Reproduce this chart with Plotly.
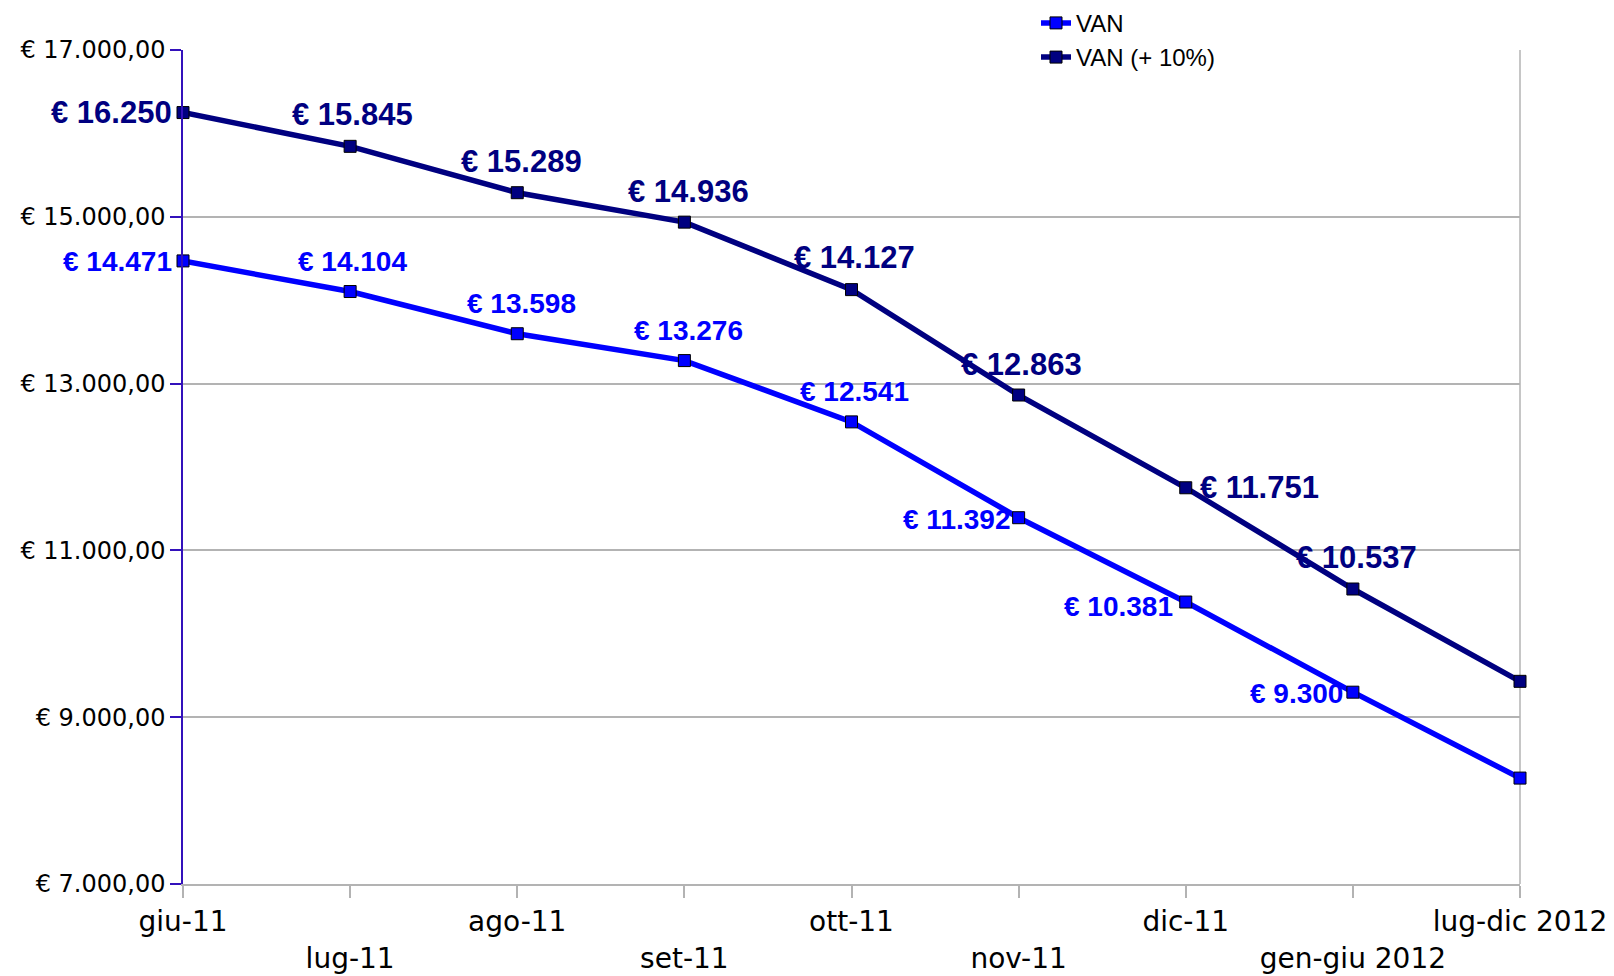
import plotly.graph_objects as go

categories = ["giu-11", "lug-11", "ago-11", "set-11", "ott-11", "nov-11", "dic-11", "gen-giu 2012", "lug-dic 2012"]
van = [14471, 14104, 13598, 13276, 12541, 11392, 10381, 9300, 8270]
van_plus10 = [16250, 15845, 15289, 14936, 14127, 12863, 11751, 10537, 9430]
y_ticks = [7000, 9000, 11000, 13000, 15000, 17000]

# label placement styles (anchor, xshift, yshift) per point; None = no label
van_label_style = [("right", -9, -1), ("center", 2, 30), ("center", 4, 30), ("center", 4, 30), ("center", 3, 30),
                   ("right", -7, -2), ("right", -11, -4), ("right", -8, -1), None]
dark_label_style = [("right", -9, 0), ("center", 2, 32), ("center", 4, 31), ("center", 4, 31), ("center", 3, 32),
                    ("center", 3, 31), ("left", 12, 0), ("center", 4, 32), None]

BLUE = "#0000ff"
NAVY = "#000080"


def fmt_int(v):
    return "€ " + f"{v:,.0f}".replace(",", ".")


def fmt_dec(v):
    s = f"{v:,.2f}"
    s = s.replace(",", "X").replace(".", ",").replace("X", ".")
    return "€ " + s


fig = go.Figure()
fig.add_trace(go.Scatter(
    x=categories, y=van, name="VAN", mode="lines+markers", cliponaxis=False,
    line=dict(color=BLUE, width=5.5),
    marker=dict(symbol="square", size=12, color=BLUE, line=dict(color="#000000", width=1)),
))
fig.add_trace(go.Scatter(
    x=categories, y=van_plus10, name="VAN (+ 10%)", mode="lines+markers", cliponaxis=False,
    line=dict(color=NAVY, width=5.5),
    marker=dict(symbol="square", size=12, color=NAVY, line=dict(color="#000000", width=1)),
))

annotations = []
for series, styles, color, size in [(van, van_label_style, BLUE, 28), (van_plus10, dark_label_style, NAVY, 31)]:
    for cat, val, st in zip(categories, series, styles):
        if st is None:
            continue
        anchor, xs, ys = st
        annotations.append(dict(
            x=cat, y=val, xref="x", yref="y", text="<b>" + fmt_int(val) + "</b>", showarrow=False,
            xanchor=anchor, yanchor="middle", xshift=xs, yshift=ys,
            font=dict(family="Liberation Sans, Arial, sans-serif", size=size, color=color),
        ))

ticktext = [c if i % 2 == 0 else "<br>" + c for i, c in enumerate(categories)]

fig.update_layout(
    width=1598, height=967,
    margin=dict(l=175, r=86, t=42, b=91, autoexpand=False),
    paper_bgcolor="white", plot_bgcolor="white",
    showlegend=True,
    legend=dict(x=0.638, y=1.059, xanchor="left", yanchor="top",
                font=dict(family="Liberation Sans, Arial, sans-serif", size=24, color="#000000"),
                bgcolor="rgba(0,0,0,0)", itemwidth=30, tracegroupgap=0),
    annotations=annotations,
    shapes=[dict(type="line", xref="paper", yref="paper", x0=1, x1=1, y0=0, y1=1,
                 line=dict(color="#b3b3b3", width=1.5), layer="below")],
)

fig.update_xaxes(
    type="category", categoryorder="array", categoryarray=categories,
    range=[0, len(categories) - 1], automargin=False,
    tickmode="array", tickvals=categories, ticktext=ticktext, tickangle=0,
    showgrid=False, showline=True, linecolor="#b3b3b3", linewidth=1.5,
    ticks="outside", ticklen=12, tickcolor="#b3b3b3", tickwidth=1.5,
    tickfont=dict(family="DejaVu Sans, Verdana, sans-serif", size=28, color="#000000"),
    zeroline=False,
)
fig.update_yaxes(
    range=[7000, 17000], automargin=False,
    tickmode="array", tickvals=y_ticks, ticktext=[fmt_dec(v) for v in y_ticks],
    showgrid=True, gridcolor="#b3b3b3", gridwidth=1.5,
    showline=True, linecolor="#3311bb", linewidth=1.5,
    ticks="outside", ticklen=11, tickcolor="#3311bb", tickwidth=1.5,
    tickfont=dict(family="DejaVu Sans, Verdana, sans-serif", size=24, color="#000000"),
    zeroline=False,
)

fig.write_html("out.html")
